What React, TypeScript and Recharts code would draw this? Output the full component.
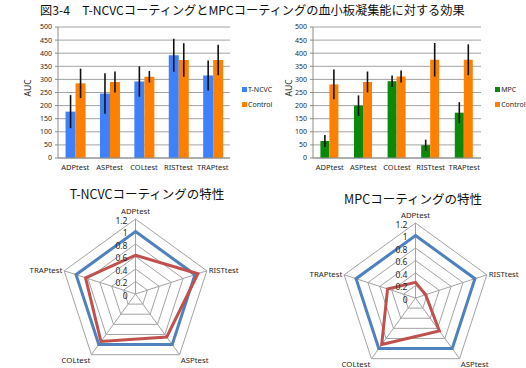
import React from 'react';
import {
  BarChart,
  Bar,
  XAxis,
  YAxis,
  CartesianGrid,
  ErrorBar,
  Legend,
  RadarChart,
  Radar,
  PolarGrid,
  PolarAngleAxis,
  PolarRadiusAxis,
} from 'recharts';

// Aggregation tests (bar chart categories)
const tests = ['ADPtest', 'ASPtest', 'COLtest', 'RISTtest', 'TRAPtest'];

// T-NCVC coating vs. control: AUC and error
const tncvcAuc = [177, 246, 292, 392, 315];
const tncvcErr = [63, 77, 58, 63, 57];
const controlAucA = [285, 290, 310, 374, 374];
const controlErrA = [56, 40, 22, 64, 58];

// MPC coating vs. control: AUC and error
const mpcAuc = [65, 200, 293, 49, 173];
const mpcErr = [23, 39, 22, 21, 40];
const controlAucB = [281, 290, 311, 375, 375];
const controlErrB = [57, 40, 23, 64, 59];

const aucTicks = [0, 50, 100, 150, 200, 250, 300, 350, 400, 450, 500];

// Radar charts: values relative to control
const radarAxes = ['ADPtest', 'RISTtest', 'ASPtest', 'COLtest', 'TRAPtest'];
const controlLevel = [1, 1, 1, 1, 1];
const tncvcRelative = [0.62, 1.05, 0.85, 0.94, 0.84];
const mpcRelative = [0.25, 0.17, 0.65, 0.92, 0.47];
const radarTicks = [0, 0.2, 0.4, 0.6, 0.8, 1, 1.2];

const BLUE = '#3f80fb';
const ORANGE = '#ff8000';
const GREEN = '#0a8a0a';
const LINE_BLUE = '#4f81bd';
const LINE_RED = '#c0504d';
const GRID = '#a3a3a3';
const AXIS = '#8c8c8c';
const TEXT = '#262626';

const barDataA = tests.map((test, i) => ({
  test,
  coated: tncvcAuc[i],
  coatedErr: tncvcErr[i],
  control: controlAucA[i],
  controlErr: controlErrA[i],
}));

const barDataB = tests.map((test, i) => ({
  test,
  coated: mpcAuc[i],
  coatedErr: mpcErr[i],
  control: controlAucB[i],
  controlErr: controlErrB[i],
}));

const radarDataA = radarAxes.map((axis, i) => ({
  axis,
  control: controlLevel[i],
  coated: tncvcRelative[i],
}));

const radarDataB = radarAxes.map((axis, i) => ({
  axis,
  control: controlLevel[i],
  coated: mpcRelative[i],
}));

const makeLegend = (order: string[]) => (props: any) => {
  const payload = [...(props.payload || [])].sort(
    (a: any, b: any) => order.indexOf(a.value) - order.indexOf(b.value)
  );
  return (
    <div>
      {payload.map((item: any) => (
        <div
          key={item.value}
          style={{
            display: 'flex',
            alignItems: 'center',
            height: 15.6,
            fontSize: 7,
            color: TEXT,
            whiteSpace: 'nowrap',
          }}
        >
          <span
            style={{
              display: 'inline-block',
              width: 5,
              height: 5,
              background: item.color,
              marginRight: 1.5,
            }}
          />
          <span>{item.value}</span>
        </div>
      ))}
    </div>
  );
};

type AucChartProps = {
  data: any[];
  coatedName: string;
  coatedColor: string;
  yAxisWidth: number;
  rightMargin: number;
  legendLeft: number;
};

const AucChart = ({ data, coatedName, coatedColor, yAxisWidth, rightMargin, legendLeft }: AucChartProps) => (
  <BarChart
    width={263}
    height={180}
    data={data}
    margin={{ top: 27, right: rightMargin, bottom: 0, left: 0 }}
    barCategoryGap="22%"
    barGap={0}
  >
    <CartesianGrid vertical={false} stroke={GRID} />
    <XAxis
      dataKey="test"
      height={22}
      interval={0}
      tickLine={false}
      axisLine={{ stroke: AXIS }}
      tickSize={4}
      tickMargin={3}
      tick={{ fontSize: 7.5, fill: TEXT }}
    />
    <YAxis
      width={yAxisWidth}
      domain={[0, 500]}
      ticks={aucTicks}
      interval={0}
      tickSize={3}
      tickMargin={3}
      axisLine={{ stroke: AXIS }}
      tickLine={{ stroke: AXIS }}
      tick={{ fontSize: 7, fill: TEXT }}
    />
    <Legend
      layout="horizontal"
      verticalAlign="middle"
      align="center"
      content={makeLegend([coatedName, 'Control'])}
      wrapperStyle={{ left: legendLeft, top: 81.3, width: 40 }}
    />
    <Bar dataKey="coated" name={coatedName} fill={coatedColor} isAnimationActive={false}>
      <ErrorBar dataKey="coatedErr" width={0} stroke="#111" strokeWidth={1.6} />
    </Bar>
    <Bar dataKey="control" name="Control" fill={ORANGE} isAnimationActive={false}>
      <ErrorBar dataKey="controlErr" width={0} stroke="#111" strokeWidth={1.6} />
    </Bar>
  </BarChart>
);

const radiusTick = (props: any) => {
  const { x, y, payload } = props;
  return (
    <text x={x - 8} y={y + 1} textAnchor="end" dominantBaseline="central" fontSize={8.5} fill={TEXT}>
      {payload.value}
    </text>
  );
};

const makeAngleTick = (cy: number) => (props: any) => {
  const { x, y, payload, textAnchor } = props;
  let baseline: any = 'central';
  let dy = 0;
  if (y < cy - 50) {
    baseline = 'auto';
    dy = -3;
  } else if (y > cy + 40) {
    baseline = 'hanging';
    dy = 0;
  }
  return (
    <text x={x} y={y + dy} textAnchor={textAnchor} dominantBaseline={baseline} fontSize={7.8} fill={TEXT}>
      {payload.value}
    </text>
  );
};

type ProfileProps = { data: any[]; cx: number; cy: number };

const ProfileRadar = ({ data, cx, cy }: ProfileProps) => (
  <RadarChart width={263} height={180} data={data} cx={cx} cy={cy} outerRadius={75} margin={{ top: 0, right: 0, bottom: 0, left: 0 }}>
    <PolarGrid gridType="polygon" stroke={GRID} />
    <PolarAngleAxis dataKey="axis" tickSize={2} tickLine={false} axisLine={false} tick={makeAngleTick(cy)} />
    <PolarRadiusAxis angle={90} domain={[0, 1.2]} ticks={radarTicks} axisLine={false} tick={radiusTick} />
    <Radar dataKey="control" stroke={LINE_BLUE} strokeWidth={3} fill="none" fillOpacity={0} dot={false} isAnimationActive={false} />
    <Radar dataKey="coated" stroke={LINE_RED} strokeWidth={3} fill="none" fillOpacity={0} dot={false} isAnimationActive={false} />
  </RadarChart>
);

const jp = "'Noto Sans CJK JP', 'Noto Sans', sans-serif";

const Heading = ({ text, left, top, size, center }: { text: string; left: number; top: number; size: number; center?: boolean }) => (
  <div
    style={{
      position: 'absolute',
      left,
      top,
      fontSize: size,
      lineHeight: `${size}px`,
      fontFamily: jp,
      color: '#111',
      whiteSpace: 'pre',
      transform: center ? 'translateX(-50%)' : undefined,
    }}
  >
    {text}
  </div>
);

const AxisTitle = ({ left, top }: { left: number; top: number }) => (
  <div
    style={{
      position: 'absolute',
      left,
      top,
      fontSize: 8.5,
      lineHeight: '9px',
      color: TEXT,
      transform: 'translate(-50%, -50%) rotate(-90deg)',
    }}
  >
    AUC
  </div>
);

export default function App() {
  return (
    <div
      style={{
        position: 'absolute',
        left: 0,
        top: 0,
        width: 526,
        height: 368,
        background: '#fff',
        overflow: 'hidden',
        fontFamily: "'Noto Sans', 'Noto Sans CJK JP', sans-serif",
      }}
    >
      <Heading text="図3-4　T-NCVCコーティングとMPCコーティングの血小板凝集能に対する効果" left={40} top={4} size={12.2} />

      <div style={{ position: 'absolute', left: 0, top: 0 }}>
        <AucChart data={barDataA} coatedName="T-NCVC" coatedColor={BLUE} yAxisWidth={58} rightMargin={33} legendLeft={241.5} />
      </div>
      <AxisTitle left={27} top={88} />

      <div style={{ position: 'absolute', left: 263, top: 0 }}>
        <AucChart data={barDataB} coatedName="MPC" coatedColor={GREEN} yAxisWidth={50} rightMargin={45} legendLeft={231.7} />
      </div>
      <AxisTitle left={288} top={88} />

      <div style={{ position: 'absolute', left: 0, top: 188 }}>
        <ProfileRadar data={radarDataA} cx={135.5} cy={106} />
      </div>
      <Heading text="T-NCVCコーティングの特性" left={147} top={188} size={12.5} center />

      <div style={{ position: 'absolute', left: 263, top: 188 }}>
        <ProfileRadar data={radarDataB} cx={152.5} cy={110} />
      </div>
      <Heading text="MPCコーティングの特性" left={413} top={193} size={12.5} center />
    </div>
  );
}
